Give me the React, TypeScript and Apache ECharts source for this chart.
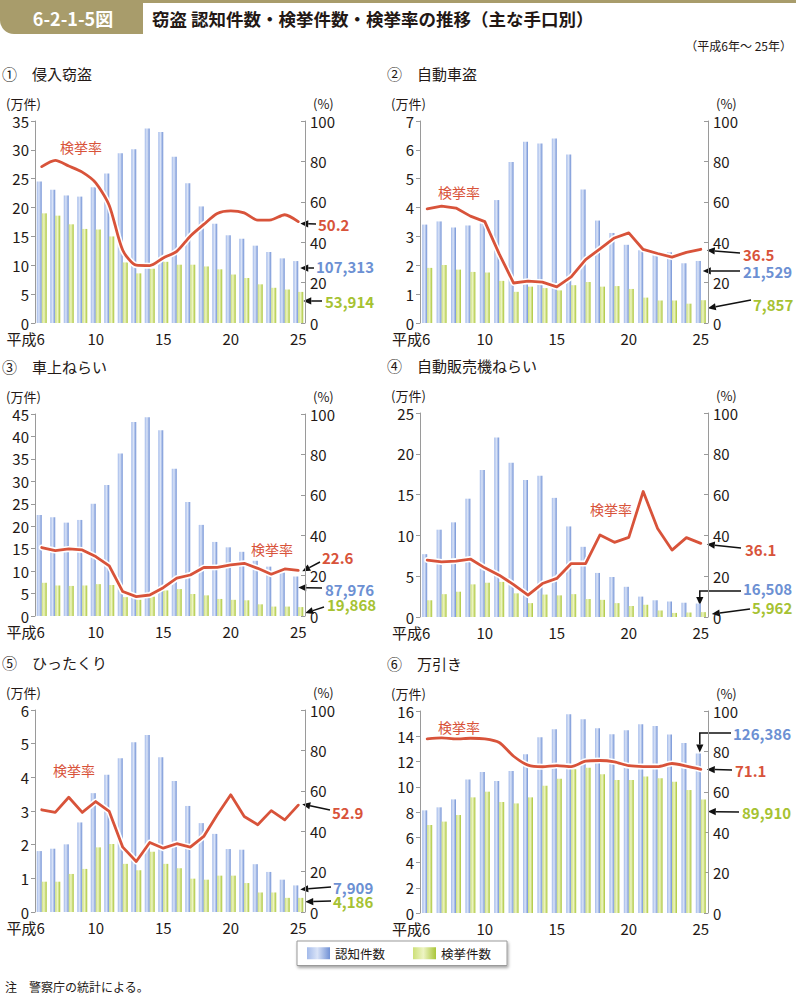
import React, { useEffect, useRef } from 'react';
import * as echarts from 'echarts';

const YEARS = ['6', '7', '8', '9', '10', '11', '12', '13', '14', '15', '16', '17', '18', '19', '20', '21', '22', '23', '24', '25'];
const LABEL_IDX = [0, 4, 9, 14, 19];

// ① 侵入窃盗 (万件 / %)
const P1_REC = [24.5, 23.1, 22.1, 21.9, 23.5, 25.9, 29.4, 30.1, 33.7, 33.1, 28.8, 24.2, 20.2, 17.2, 15.2, 14.6, 13.4, 12.3, 11.2, 10.73];
const P1_CLR = [19.0, 18.6, 17.1, 16.3, 16.2, 15.0, 10.5, 8.6, 9.4, 10.6, 10.1, 10.1, 9.8, 9.3, 8.4, 7.8, 6.7, 6.1, 5.8, 5.39];
const P1_RATE = [77.4, 80.5, 77.7, 74.7, 69.4, 58.2, 36.0, 28.6, 28.4, 32.2, 35.5, 43.0, 48.8, 54.2, 55.5, 54.5, 50.9, 51.1, 53.6, 50.2];

// ② 自動車盗
const P2_REC = [3.41, 3.52, 3.31, 3.38, 3.45, 4.26, 5.58, 6.28, 6.22, 6.39, 5.84, 4.63, 3.55, 3.12, 2.71, 2.52, 2.35, 2.45, 2.07, 2.15];
const P2_CLR = [1.91, 2.01, 1.85, 1.77, 1.75, 1.46, 1.08, 1.26, 1.21, 1.13, 1.31, 1.42, 1.26, 1.28, 1.18, 0.88, 0.78, 0.78, 0.67, 0.79];
const P2_RATE = [56.5, 57.9, 56.9, 52.9, 50.2, 34.2, 19.8, 20.7, 20.2, 17.9, 22.8, 31.4, 36.7, 42.1, 44.6, 36.4, 34.4, 32.6, 35.0, 36.5];

// ③ 車上ねらい
const P3_REC = [22.5, 22.0, 20.8, 21.4, 25.0, 29.2, 36.2, 43.2, 44.3, 41.4, 32.8, 25.4, 20.3, 16.5, 15.3, 14.3, 12.3, 11.0, 9.7, 8.80];
const P3_CLR = [7.4, 6.8, 6.7, 6.8, 7.1, 6.9, 4.2, 3.6, 4.3, 5.7, 6.0, 4.9, 4.6, 3.8, 3.6, 3.5, 2.6, 2.1, 2.1, 1.99];
const P3_RATE = [33.9, 32.4, 33.2, 32.7, 29.4, 24.8, 12.1, 9.6, 10.4, 14.0, 18.7, 20.3, 24.0, 24.1, 25.3, 26.1, 23.6, 20.7, 23.3, 22.6];

// ④ 自動販売機ねらい
const P4_REC = [7.7, 10.7, 11.6, 14.5, 18.0, 22.0, 18.9, 16.8, 17.3, 14.6, 11.1, 8.6, 5.4, 4.9, 3.7, 2.5, 2.05, 1.9, 1.75, 1.65];
const P4_CLR = [2.05, 2.8, 3.1, 4.0, 4.2, 4.3, 2.9, 1.7, 2.75, 2.65, 2.8, 2.2, 2.1, 1.7, 1.35, 1.5, 0.8, 0.5, 0.55, 0.60];
const P4_RATE = [27.9, 27.0, 27.4, 28.4, 24.1, 20.5, 15.9, 10.7, 16.4, 18.9, 26.2, 26.2, 40.2, 36.6, 39.0, 61.5, 43.4, 32.8, 38.9, 36.1];

// ⑤ ひったくり
const P5_REC = [1.81, 1.88, 2.01, 2.66, 3.53, 4.08, 4.57, 5.04, 5.26, 4.60, 3.89, 3.15, 2.64, 2.32, 1.87, 1.85, 1.42, 1.19, 0.96, 0.79];
const P5_CLR = [0.90, 0.90, 1.13, 1.28, 1.92, 2.02, 1.43, 1.24, 1.79, 1.43, 1.30, 0.99, 0.96, 1.08, 1.08, 0.86, 0.58, 0.58, 0.42, 0.42];
const P5_RATE = [50.6, 49.3, 56.8, 49.3, 54.7, 49.8, 32.1, 25.0, 34.4, 31.6, 33.8, 32.1, 37.4, 48.1, 58.0, 47.3, 43.2, 50.2, 45.6, 52.9];

// ⑥ 万引き
const P6_REC = [8.13, 8.37, 9.0, 10.58, 11.16, 10.45, 11.24, 12.58, 13.92, 14.55, 15.74, 15.34, 14.63, 14.16, 14.47, 14.95, 14.82, 14.13, 13.47, 12.64];
const P6_CLR = [6.97, 7.24, 7.76, 9.16, 9.61, 8.79, 8.68, 9.16, 10.08, 10.63, 11.39, 11.5, 11.0, 10.53, 10.53, 10.82, 10.68, 10.39, 9.74, 8.99];
const P6_RATE = [86.2, 86.7, 86.2, 86.5, 86.2, 84.4, 77.6, 73.2, 72.4, 73.0, 72.5, 75.2, 75.5, 74.8, 72.9, 72.5, 72.5, 74.0, 72.7, 71.1];

const FONT = '"Noto Sans CJK JP", "Noto Sans", sans-serif';
const RED = '#d8533a';
const BLUE = '#6c90d3';
const GREEN = '#a6c232';
const TAN = '#a89c6b';
const INK = '#231815';

type Ann = {
  kind: 'rate' | 'rec' | 'clr';
  text: string;
  lx: number;
  ly: number;
  dx: number;
  dy: number;
  tail?: [number, number];
  elbowY?: number;
};

type Panel = {
  title: string;
  rec: number[];
  clr: number[];
  rate: number[];
  max: number;
  interval: number;
  left: number;
  top: number;
  width: number;
  height: number;
  smooth: number | boolean;
  rateLabel: [number, number];
  ann: Ann[];
};

const PANELS: Panel[] = [
  {
    title: '①　侵入窃盗', rec: P1_REC, clr: P1_CLR, rate: P1_RATE, max: 35, interval: 5,
    left: 35, top: 121, width: 270, height: 202, smooth: 0.25, rateLabel: [60, 147],
    ann: [
      { kind: 'rate', text: '50.2', lx: 318, ly: 224, dx: 2, dy: 2, tail: [316, 224] },
      { kind: 'rec', text: '107,313', lx: 316, ly: 266, dx: 2, dy: 7, tail: [314, 268] },
      { kind: 'clr', text: '53,914', lx: 325, ly: 301, dx: 5, dy: 9, tail: [322, 301] },
    ],
  },
  {
    title: '②　自動車盗', rec: P2_REC, clr: P2_CLR, rate: P2_RATE, max: 7, interval: 1,
    left: 420, top: 121, width: 288, height: 202, smooth: false, rateLabel: [438, 192],
    ann: [
      { kind: 'rate', text: '36.5', lx: 743, ly: 254, dx: 6, dy: 1, tail: [740, 253] },
      { kind: 'rec', text: '21,529', lx: 743, ly: 271, dx: 2, dy: 10, tail: [740, 271] },
      { kind: 'clr', text: '7,857', lx: 753, ly: 304, dx: 7, dy: 8, tail: [751, 300] },
    ],
  },
  {
    title: '③　車上ねらい', rec: P3_REC, clr: P3_CLR, rate: P3_RATE, max: 45, interval: 5,
    left: 35, top: 414, width: 270, height: 202, smooth: false, rateLabel: [251, 549],
    ann: [
      { kind: 'rate', text: '22.6', lx: 322, ly: 557, dx: 4, dy: 1, tail: [320, 562] },
      { kind: 'rec', text: '87,976', lx: 325, ly: 589, dx: 0, dy: 11, tail: [322, 588] },
      { kind: 'clr', text: '19,868', lx: 327, ly: 604, dx: 7, dy: 6, tail: [324, 607] },
    ],
  },
  {
    title: '④　自動販売機ねらい', rec: P4_REC, clr: P4_CLR, rate: P4_RATE, max: 25, interval: 5,
    left: 420, top: 413, width: 288, height: 204, smooth: false, rateLabel: [590, 509],
    ann: [
      { kind: 'rate', text: '36.1', lx: 745, ly: 549, dx: 6, dy: 1, tail: [741, 548] },
      { kind: 'rec', text: '16,508', lx: 743, ly: 588, dx: -1, dy: 1.5, tail: [741, 591], elbowY: 591 },
      { kind: 'clr', text: '5,962', lx: 752, ly: 607, dx: 11, dy: 2, tail: [750, 609] },
    ],
  },
  {
    title: '⑤　ひったくり', rec: P5_REC, clr: P5_CLR, rate: P5_RATE, max: 6, interval: 1,
    left: 35, top: 710, width: 270, height: 202, smooth: false, rateLabel: [53, 770],
    ann: [
      { kind: 'rate', text: '52.9', lx: 332, ly: 812, dx: 4, dy: -1, tail: [330, 810] },
      { kind: 'rec', text: '7,909', lx: 333, ly: 887, dx: 2, dy: 4, tail: [331, 887] },
      { kind: 'clr', text: '4,186', lx: 333, ly: 901, dx: 7, dy: 4, tail: [331, 901] },
    ],
  },
  {
    title: '⑥　万引き', rec: P6_REC, clr: P6_CLR, rate: P6_RATE, max: 16, interval: 2,
    left: 420, top: 711, width: 288, height: 202, smooth: 0.25, rateLabel: [438, 727],
    ann: [
      { kind: 'rec', text: '126,386', lx: 733, ly: 733, dx: -1, dy: -1, tail: [731, 733], elbowY: 733 },
      { kind: 'rate', text: '71.1', lx: 735, ly: 770, dx: 6, dy: 0, tail: [732, 770] },
      { kind: 'clr', text: '89,910', lx: 742, ly: 812, dx: 7, dy: 12, tail: [739, 812] },
    ],
  },
];

const blueGrad = {
  type: 'linear', x: 0, y: 0, x2: 1, y2: 0,
  colorStops: [
    { offset: 0, color: '#a3baea' },
    { offset: 0.45, color: '#d9e3f7' },
    { offset: 1, color: '#7191d5' },
  ],
};
const greenGrad = {
  type: 'linear', x: 0, y: 0, x2: 1, y2: 0,
  colorStops: [
    { offset: 0, color: '#cde078' },
    { offset: 0.45, color: '#edf4c3' },
    { offset: 1, color: '#aac638' },
  ],
};

function txt(x: number, y: number, text: string, o: any = {}) {
  return {
    type: 'text',
    x,
    y,
    silent: true,
    style: {
      text,
      fill: o.fill || INK,
      fontSize: o.fontSize || 14,
      fontFamily: FONT,
      fontWeight: o.fontWeight || 'normal',
      align: o.align || 'left',
      verticalAlign: o.verticalAlign || 'middle',
    },
  };
}

function buildOption() {
  const grid: any[] = [];
  const xAxis: any[] = [];
  const yAxis: any[] = [];
  const series: any[] = [];
  PANELS.forEach((p, i) => {
    grid.push({ left: p.left, top: p.top, width: p.width, height: p.height });
    xAxis.push({
      type: 'category',
      gridIndex: i,
      data: YEARS,
      boundaryGap: true,
      axisLine: { show: false },
      axisTick: { show: false },
      axisLabel: {
        interval: (idx: number) => LABEL_IDX.includes(idx),
        margin: 8,
        color: INK,
        fontSize: 15,
        fontFamily: FONT,
        formatter: (v: string, idx: number) => (idx === 0 ? '{f|平成' + v + '}' : v),
        rich: { f: { padding: [0, 32, 0, 0], fontSize: 15, fontFamily: FONT, color: INK } },
      },
    });
    yAxis.push({
      type: 'value',
      gridIndex: i,
      min: 0,
      max: p.max,
      interval: p.interval,
      position: 'left',
      axisLine: { show: true, lineStyle: { color: '#9a9a9a', width: 1 } },
      axisTick: { show: true, length: 4, lineStyle: { color: '#9a9a9a' } },
      splitLine: { show: false },
      axisLabel: { color: INK, fontSize: 15, fontFamily: FONT, margin: 6 },
    });
    yAxis.push({
      type: 'value',
      gridIndex: i,
      min: 0,
      max: 100,
      interval: 20,
      position: 'right',
      axisLine: { show: true, lineStyle: { color: '#9a9a9a', width: 1 } },
      axisTick: { show: true, inside: true, length: 4, lineStyle: { color: '#9a9a9a' } },
      splitLine: { show: false },
      axisLabel: { color: INK, fontSize: 15, fontFamily: FONT, margin: 5 },
    });
    series.push({
      name: '認知件数', type: 'bar', xAxisIndex: i, yAxisIndex: 2 * i, data: p.rec,
      barWidth: 5, barGap: '0%', itemStyle: { color: blueGrad }, z: 2,
    });
    series.push({
      name: '検挙件数', type: 'bar', xAxisIndex: i, yAxisIndex: 2 * i, data: p.clr,
      barWidth: 5, barGap: '0%', itemStyle: { color: greenGrad }, z: 2,
    });
    series.push({
      name: '検挙率_bg', type: 'line', xAxisIndex: i, yAxisIndex: 2 * i + 1, data: p.rate,
      symbol: 'none', smooth: p.smooth, lineStyle: { color: '#ffffff', width: 6, join: 'round', cap: 'round' }, z: 3, silent: true,
    });
    series.push({
      name: '検挙率', type: 'line', xAxisIndex: i, yAxisIndex: 2 * i + 1, data: p.rate,
      symbol: 'none', smooth: p.smooth, lineStyle: { color: RED, width: 2.8, join: 'round', cap: 'round' }, z: 4, silent: true,
    });
  });
  return {
    animation: false,
    backgroundColor: '#ffffff',
    textStyle: { fontFamily: FONT },
    grid,
    xAxis,
    yAxis,
    series,
    legend: {
      data: ['認知件数', '検挙件数'],
      left: 297,
      top: 941,
      itemWidth: 23,
      itemHeight: 12,
      itemGap: 28,
      icon: 'rect',
      padding: [6, 16, 6, 10],
      borderColor: '#9a9a9a',
      borderWidth: 1,
      backgroundColor: '#ffffff',
      shadowColor: 'rgba(0,0,0,0.35)',
      shadowBlur: 3,
      shadowOffsetX: 1,
      shadowOffsetY: 2,
      selectedMode: false,
      textStyle: { fontSize: 12.5, fontFamily: FONT, color: INK },
    },
  };
}

function arrowEls(tail: [number, number], tip: [number, number], corner?: [number, number]) {
  const pts: [number, number][] = corner ? [tail, corner, tip] : [tail, tip];
  const from = pts[pts.length - 2];
  const dx = tip[0] - from[0];
  const dy = tip[1] - from[1];
  const len = Math.hypot(dx, dy) || 1;
  const ux = dx / len;
  const uy = dy / len;
  const L = 8;
  const W = 3.6;
  const base: [number, number] = [tip[0] - ux * L, tip[1] - uy * L];
  const shaft = [...pts.slice(0, -1), base];
  return [
    { type: 'polyline', silent: true, shape: { points: shaft }, style: { stroke: '#111', lineWidth: 1.5, fill: null } },
    {
      type: 'polygon', silent: true,
      shape: { points: [tip, [base[0] - uy * W, base[1] + ux * W], [base[0] + uy * W, base[1] - ux * W]] },
      style: { fill: '#111' },
    },
  ];
}

function buildGraphics(chart: any) {
  const g: any[] = [];
  // header
  g.push({ type: 'rect', silent: true, shape: { x: 140, y: 0, width: 656, height: 3 }, style: { fill: TAN } });
  g.push({ type: 'rect', silent: true, shape: { x: 0, y: 0, width: 143, height: 34, r: [0, 0, 0, 14] }, style: { fill: TAN } });
  g.push(txt(73, 18, '6-2-1-5図', { fill: '#ffffff', fontSize: 18, fontWeight: 'bold', align: 'center' }));
  g.push(txt(152, 18, '窃盗 認知件数・検挙件数・検挙率の推移（主な手口別）', { fontSize: 17.5, fontWeight: 'bold' }));
  g.push(txt(792, 45, '（平成6年～ 25年）', { fontSize: 12, align: 'right' }));
  // footnote
  g.push(txt(5, 986, '注　警察庁の統計による。', { fontSize: 12 }));

  PANELS.forEach((p, i) => {
    g.push(txt(p.left - 33, p.top - 48, p.title, { fontSize: 15 }));
    g.push(txt(p.left - 29, p.top - 18, '(万件)', { fontSize: 13 }));
    g.push(txt(p.left + p.width + 8, p.top - 18, '(%)', { fontSize: 13 }));
    g.push(txt(p.rateLabel[0], p.rateLabel[1], '検挙率', { fontSize: 14, fill: RED }));
    p.ann.forEach((a) => {
      const arr = a.kind === 'rate' ? p.rate : a.kind === 'rec' ? p.rec : p.clr;
      const seriesIndex = a.kind === 'rate' ? 4 * i + 3 : 4 * i;
      const last = arr.length - 1;
      const px = chart.convertToPixel({ seriesIndex }, [last, arr[last]]) as number[];
      const tip: [number, number] = [px[0] + a.dx, px[1] + a.dy];
      const tail: [number, number] = a.tail || [a.lx - 2, a.ly];
      const corner: [number, number] | undefined = a.elbowY !== undefined ? [tip[0], a.elbowY] : undefined;
      arrowEls(tail, tip, corner).forEach((e) => g.push(e));
      const color = a.kind === 'rate' ? RED : a.kind === 'rec' ? BLUE : GREEN;
      g.push(txt(a.lx, a.ly, a.text, { fontSize: 15, fontWeight: 'bold', fill: color }));
    });
  });
  return g;
}

export default function App() {
  const ref = useRef<HTMLDivElement>(null);
  useEffect(() => {
    if (!ref.current) return;
    const chart = echarts.init(ref.current, undefined, { renderer: 'svg', width: 796, height: 997 });
    chart.setOption(buildOption() as any);
    chart.setOption({ graphic: buildGraphics(chart) } as any);
    return () => {
      chart.dispose();
    };
  }, []);
  return (
    <div
      ref={ref}
      style={{ position: 'absolute', left: 0, top: 0, width: 796, height: 997, background: '#fff' }}
    />
  );
}
